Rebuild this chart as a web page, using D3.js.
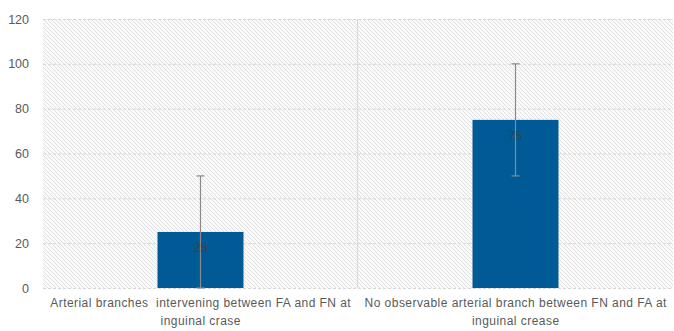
<!DOCTYPE html>
<html><head><meta charset="utf-8">
<script src="https://cdn.jsdelivr.net/npm/d3@7"></script>
<style>body{margin:0;background:#fff;} svg{display:block;font-family:"Liberation Sans",Arial,sans-serif;}</style>
</head><body>
<svg id="c" width="674" height="331"></svg>
<script>
const categories = [["Arterial branches  intervening between FA and FN at","inguinal crase"],["No observable arterial branch between FN and FA at","inguinal crease"]];
const values = [25, 75];
const errors = [25, 25];
const yTicks = [0,20,40,60,80,100,120];

const svg = d3.select("#c");
const m = {l:43, r:673, t:19, b:288};
const defs = svg.append("defs");
const pat = defs.append("pattern").attr("id","hatch").attr("patternUnits","userSpaceOnUse")
  .attr("width",4).attr("height",4);
pat.append("rect").attr("width",4).attr("height",4).attr("fill","#fafafa");
pat.append("path").attr("d","M-1,-1 L5,5 M-1,3 L1,5 M3,-1 L5,1").attr("stroke","#e0e0e0").attr("stroke-width",1);

const x = d3.scaleBand().domain(d3.range(categories.length)).range([m.l,m.r]).paddingInner(0).paddingOuter(0);
const y = d3.scaleLinear().domain([0,120]).range([m.b,m.t]);

svg.append("rect").attr("x",m.l).attr("y",m.t).attr("width",m.r-m.l).attr("height",m.b-m.t).attr("fill","url(#hatch)");

svg.append("g").selectAll("line").data(yTicks).join("line")
  .attr("x1",m.l).attr("x2",m.r).attr("y1",d=>y(d)+0.5).attr("y2",d=>y(d)+0.5)
  .attr("stroke","#d6d6d6").attr("stroke-dasharray","3,2");
svg.append("g").selectAll("line").data(d3.range(1,categories.length)).join("line")
  .attr("x1",d=>x(d)-0.5).attr("x2",d=>x(d)-0.5).attr("y1",m.t).attr("y2",m.b)
  .attr("stroke","#d9d9d9");

const yAxis = d3.axisLeft(y).tickValues(yTicks).tickSize(0).tickPadding(14);
const ga = svg.append("g").attr("transform",`translate(${m.l},0)`).call(yAxis);
ga.select(".domain").remove();
ga.selectAll("text").attr("fill","#595959").style("font-size","12.5px");

const bw = 86;
svg.append("g").selectAll("rect").data(values).join("rect")
  .attr("x",(d,i)=>x(i)+x.bandwidth()/2-bw/2).attr("width",bw)
  .attr("y",d=>y(d)).attr("height",d=>y(0)-y(d)).attr("fill","#005a96");

const eg = svg.append("g").attr("stroke","#8a8a8a").attr("stroke-width",1.2);
values.forEach((v,i)=>{
  const cx = x(i)+x.bandwidth()/2;
  eg.append("line").attr("x1",cx).attr("x2",cx).attr("y1",y(v+errors[i])).attr("y2",y(v-errors[i]));
  eg.append("line").attr("x1",cx-4).attr("x2",cx+4).attr("y1",y(v+errors[i])).attr("y2",y(v+errors[i]));
  eg.append("line").attr("x1",cx-4).attr("x2",cx+4).attr("y1",y(v-errors[i])).attr("y2",y(v-errors[i]));
});

svg.append("g").selectAll("text").data(values).join("text")
  .attr("x",(d,i)=>x(i)+x.bandwidth()/2).attr("y",d=>y(d)+20)
  .attr("text-anchor","middle").attr("fill","#404040").style("font-size","13px").text(d=>d);

const cl = svg.append("g");
categories.forEach((lines,i)=>{
  const t = cl.append("text").attr("text-anchor","middle").attr("fill","#595959")
    .style("font-size","12px").style("white-space","pre");
  lines.forEach((ln,j)=>{
    const ts = t.append("tspan").attr("x",x(i)+x.bandwidth()/2).attr("y",307+j*18).text(ln);
    const w = ts.node().getComputedTextLength();
    ts.attr("textLength", w*1.08).attr("lengthAdjust","spacing");
  });
});
</script>
</body></html>
